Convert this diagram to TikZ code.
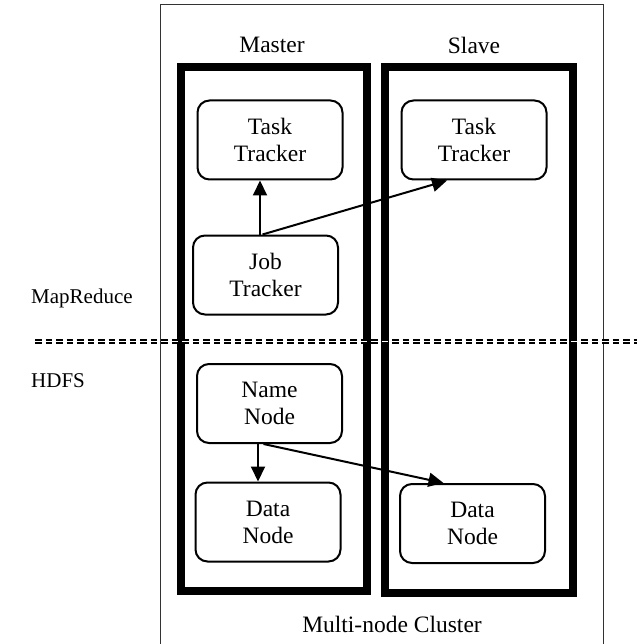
\documentclass[tikz,border=0pt]{standalone}
\usepackage{fontspec}
\setmainfont{Liberation Serif}
\usetikzlibrary{arrows.meta,calc}
\tikzset{
  lbl/.style={font=\fontsize{23.5}{27}\selectfont, align=center, inner sep=0pt},
  sidelbl/.style={font=\fontsize{21}{25}\selectfont, anchor=west, inner sep=0pt},
  rbox/.style={draw, line width=2pt, rounded corners=12pt, minimum width=145pt, minimum height=79pt, inner sep=0pt, align=center, font=\fontsize{23.5}{27}\selectfont},
  container/.style={draw, line width=8pt, inner sep=0pt},
  arr/.style={line width=2pt, -{Triangle[length=15pt,width=14pt]}},
  sep/.style={line width=2pt, double distance=1pt, dash pattern=on 6.5pt off 4pt}
}
\begin{document}
\begin{tikzpicture}[x=1pt,y=-1pt]
\useasboundingbox (0,0) rectangle (636,644);
% outer cluster
\draw[line width=1pt, black!80] (160,660) -- (160,5) -- (603,5) -- (603,660);
% containers
\node[container, minimum width=186pt, minimum height=524pt] (master) at (274,329) {};
\node[container, minimum width=188.5pt, minimum height=526pt] (slave) at (478.75,330) {};
\node[lbl] (masterlbl) at (272,45) {Master};
\node[lbl] (slavelbl) at (474,45) {Slave};
% boxes
\node[rbox] (tt1) at (270,140) {Task\\Tracker};
\node[rbox] (tt2) at (474,140) {Task\\Tracker};
\node[rbox] (jt) at (265.5,275) {Job\\Tracker};
\node[rbox] (nn) at (269.5,403.5) {Name\\Node};
\node[rbox] (dn1) at (268,522) {Data\\Node};
\node[rbox] (dn2) at (472.5,523.5) {Data\\Node};
% side labels
\node[sidelbl] (mr) at (31,298) {MapReduce};
\node[sidelbl] (hdfs) at (31,381) {HDFS};
\node[lbl] (cluster) at (392,624) {Multi-node Cluster};
% separator
\coordinate (sepL) at (35,341);
\coordinate (sepR) at (640,341);
\draw[sep] (sepL) -- (sepR);
% arrows
\draw[arr] ([xshift=-5.5pt]jt.north) -- ([xshift=-10pt]tt1.south);
\draw[arr] ([xshift=-3pt]jt.north) -- ([xshift=-27pt]tt2.south);
\draw[arr] ([xshift=-11.5pt]nn.south) -- ([xshift=-10pt]dn1.north);
\draw[arr] ([xshift=-6pt]nn.south) -- ([xshift=-29pt]dn2.north);
\end{tikzpicture}
\end{document}
